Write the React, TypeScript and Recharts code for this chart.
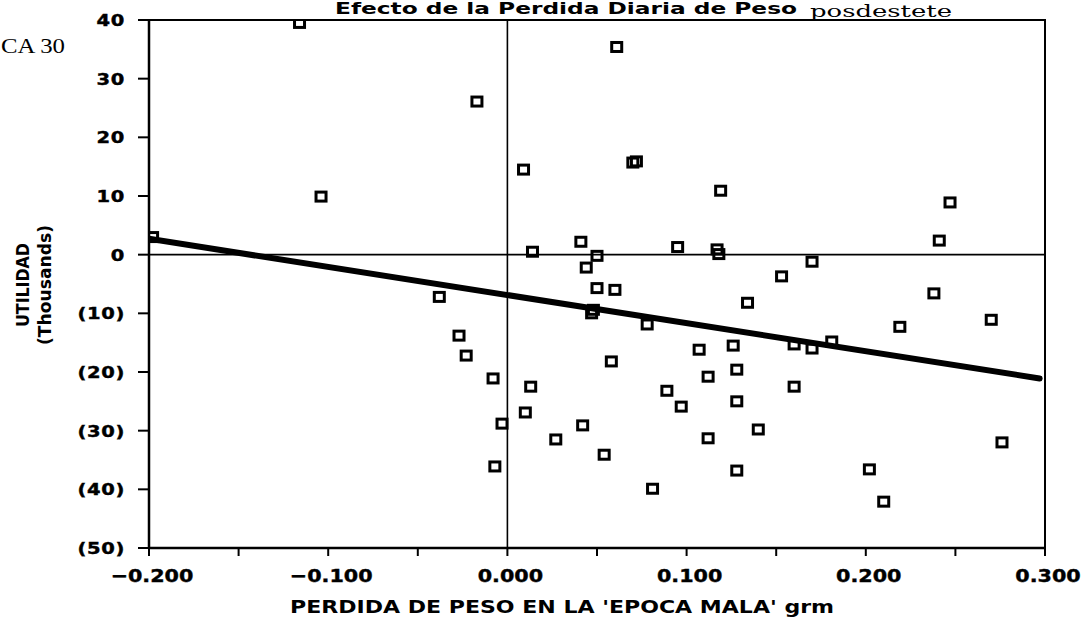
import React from 'react';
import {
  ScatterChart,
  Scatter,
  XAxis,
  YAxis,
  ReferenceLine,
  ReferenceArea,
} from 'recharts';

// perdida de peso en la epoca mala (grm) vs utilidad (miles)
const perdida = [
  -0.198, -0.116, -0.104, -0.017, -0.038, -0.027, -0.023, -0.008, -0.003, -0.007,
  0.061, 0.009, 0.070, 0.072, 0.119, 0.041, 0.014, 0.095, 0.117, 0.118,
  0.050, 0.044, 0.050, 0.060, 0.153, 0.134, 0.048, 0.047, 0.078, 0.107,
  0.126, 0.160, 0.058, 0.112, 0.128, 0.013, 0.089, 0.097, 0.128, 0.160,
  0.010, 0.042, 0.027, 0.112, 0.140, 0.054, 0.128, 0.081, 0.241, 0.247,
  0.170, 0.238, 0.270, 0.219, 0.170, 0.181, 0.276, 0.202, 0.210,
];
const utilidad = [
  3.0, 39.5, 9.9, 26.1, -7.2, -13.8, -17.2, -21.1, -28.8, -36.1,
  35.4, 14.5, 15.7, 15.9, 10.9, 2.2, 0.5, 1.3, 0.9, 0.1,
  -0.2, -2.2, -5.7, -6.0, -3.7, -8.2, -9.4, -10.0, -11.9, -16.2,
  -15.5, -15.3, -18.2, -20.8, -19.6, -22.5, -23.2, -25.9, -25.0, -22.5,
  -26.9, -29.1, -31.5, -31.3, -29.8, -34.1, -36.8, -39.9, 2.4, 8.9,
  -1.2, -6.6, -11.1, -12.3, -16.0, -14.8, -32.0, -36.6, -42.1,
];

// linea de tendencia
const fitX = [-0.2, 0.297];
const fitY = [2.7, -21.1];

const xTicks = [-0.2, -0.15, -0.1, -0.05, 0, 0.05, 0.1, 0.15, 0.2, 0.25, 0.3];
const yTicks = [-50, -40, -30, -20, -10, 0, 10, 20, 30, 40];

const points = perdida.map((x, i) => ({ x, y: utilidad[i] }));
const fitData = fitX.map((x, i) => ({ x, y: fitY[i] }));

const font = '"DejaVu Sans", sans-serif';

const fmtX = (v: number) => {
  if (Math.abs(v) < 1e-9) return '0.000';
  return (v < 0 ? '\u2212' : '') + Math.abs(v).toFixed(3);
};
const fmtY = (v: number) => (v < 0 ? `(${-v})` : `${v}`);

const XTick = (props: any) => {
  const { x, y, payload } = props;
  const v = payload.value;
  if (Math.abs(v * 10 - Math.round(v * 10)) > 1e-6) return <g />;
  return (
    <text
      transform={`translate(${x + 3},${y + 14}) scale(1.15,1)`}
      textAnchor="middle"
      fontFamily={font}
      fontWeight="bold"
      fontSize={18}
      fill="#000"
      stroke="#000"
      strokeWidth={0.4}
    >
      {fmtX(v)}
    </text>
  );
};

const YTick = (props: any) => {
  const { x, y, payload } = props;
  return (
    <text
      transform={`translate(${x},${y + 6}) scale(1.3,1)`}
      textAnchor="end"
      fontFamily={font}
      fontWeight="bold"
      fontSize={15}
      letterSpacing={0.5}
      fill="#000"
      stroke="#000"
      strokeWidth={0.4}
    >
      {fmtY(payload.value)}
    </text>
  );
};

const Square = (props: any) => {
  const { cx, cy } = props;
  if (cx == null || cy == null) return <g />;
  return (
    <rect
      x={cx - 5}
      y={cy - 4.5}
      width={10}
      height={9}
      fill="none"
      stroke="#000"
      strokeWidth={3}
    />
  );
};

export default function App() {
  return (
    <div style={{ position: 'absolute', left: 0, top: 0, width: 1087, height: 620, background: '#fff' }}>
      <ScatterChart width={1087} height={620} margin={{ top: 20, right: 42, left: 49, bottom: 42 }}>
        <XAxis
          type="number"
          dataKey="x"
          domain={[-0.2, 0.3]}
          ticks={xTicks}
          interval={0}
          height={30}
          axisLine={{ stroke: '#000', strokeWidth: 2.5 }}
          tickLine={{ stroke: '#000', strokeWidth: 2 }}
          tickSize={8}
          tickMargin={12}
          tick={<XTick />}
          allowDataOverflow
        />
        <YAxis
          type="number"
          dataKey="y"
          domain={[-50, 40]}
          ticks={yTicks}
          interval={0}
          width={100}
          axisLine={{ stroke: '#000', strokeWidth: 2.5 }}
          tickLine={{ stroke: '#000', strokeWidth: 2 }}
          tickSize={11}
          tickMargin={13}
          tick={<YTick />}
          allowDataOverflow
        />
        <ReferenceArea
          x1={-0.2}
          x2={0.3}
          y1={-50}
          y2={40}
          fill="none"
          stroke="#000"
          strokeWidth={2}
          fillOpacity={0}
          ifOverflow="visible"
        />
        <ReferenceLine x={0} stroke="#000" strokeWidth={1.6} />
        <ReferenceLine y={0} stroke="#000" strokeWidth={1.6} />
        <Scatter data={points} shape={<Square />} isAnimationActive={false} />
        <Scatter
          data={fitData}
          line={{ stroke: '#000', strokeWidth: 6, strokeLinecap: 'round' }}
          shape={() => <g />}
          isAnimationActive={false}
        />
      </ScatterChart>
      <svg
        width={1087}
        height={620}
        style={{ position: 'absolute', left: 0, top: 0, pointerEvents: 'none' }}
      >
        <text x={335} y={14} fontFamily={font} fontWeight="bold" fontSize={16} textLength={462} lengthAdjust="spacingAndGlyphs">
          Efecto de la Perdida Diaria de Peso
        </text>
        <text x={810} y={17} fontFamily='"DejaVu Serif", serif' fontSize={17} textLength={142} lengthAdjust="spacingAndGlyphs">
          posdestete
        </text>
        <text x={1} y={53} fontFamily='"Liberation Serif", serif' fontSize={21} textLength={64} lengthAdjust="spacingAndGlyphs">
          CA 30
        </text>
        <text
          x={290}
          y={613}
          fontFamily={font}
          fontWeight="bold"
          fontSize={17}
          textLength={544}
          lengthAdjust="spacingAndGlyphs"
        >
          PERDIDA DE PESO EN LA 'EPOCA MALA' grm
        </text>
        <g transform="translate(29,285) rotate(-90)">
          <text textAnchor="middle" fontFamily={font} fontWeight="bold" fontSize={17} textLength={84} lengthAdjust="spacingAndGlyphs">
            UTILIDAD
          </text>
        </g>
        <g transform="translate(51,285) rotate(-90)">
          <text textAnchor="middle" fontFamily={font} fontWeight="bold" fontSize={17} textLength={120} lengthAdjust="spacingAndGlyphs">
            (Thousands)
          </text>
        </g>
      </svg>
    </div>
  );
}
